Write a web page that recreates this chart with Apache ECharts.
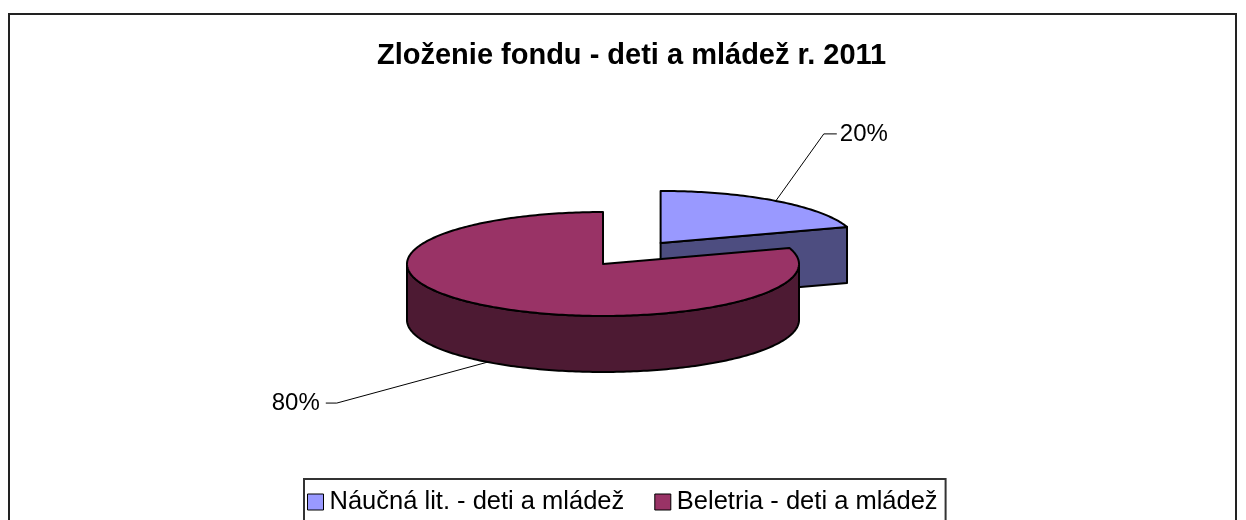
<!DOCTYPE html>
<html>
<head>
<meta charset="utf-8">
<title>Zloženie fondu - deti a mládež r. 2011</title>
<script src="https://cdn.jsdelivr.net/npm/echarts@6/dist/echarts.min.js"></script>
<style>
  html, body { margin: 0; padding: 0; background: #fff; }
  #chart { width: 1246px; height: 520px; }
</style>
</head>
<body>
<div id="chart"></div>
<script>
// data
const categories = ['Náučná lit. - deti a mládež', 'Beletria - deti a mládež'];
const values = [20, 80];

// colours: top face / side face
const topColors = ['#9999FF', '#993366'];
const sideColors = ['#4D4D80', '#4D1A33'];

// pie geometry (3D look, drawn by hand in a custom series)
const pie = { cx: 603, cy: 264, rx: 196, ry: 52, depth: 56 };
const explode = [0.5, 0];
// leader line: anchor -> elbow offset, then short horizontal piece
const leader = [[48, -67], [-151, 41]];

const total = values.reduce((a, b) => a + b, 0);
const rad = d => d * Math.PI / 180;

function pt (c, deg, dy) {
  return [c[0] + pie.rx * Math.sin(rad(deg)), c[1] - pie.ry * Math.cos(rad(deg)) + (dy || 0)];
}
function arc (c, a0, a1, dy) {
  const pts = [];
  const n = Math.max(2, Math.ceil(Math.abs(a1 - a0)));
  for (let k = 0; k <= n; k++) pts.push(pt(c, a0 + (a1 - a0) * k / n, dy));
  return pts;
}

function renderSlice (params, api) {
  const i = params.seriesIndex;
  const v = api.value(0);
  let start = 0;
  for (let k = 0; k < i; k++) start += values[k];
  const a0 = start / total * 360;
  const a1 = a0 + v / total * 360;
  const mid = (a0 + a1) / 2;
  const ex = explode[i];
  const c = [pie.cx + ex * pie.rx * Math.sin(rad(mid)), pie.cy - ex * pie.ry * Math.cos(rad(mid))];
  const d = pie.depth;
  const line = { stroke: '#000', lineWidth: 2, lineJoin: 'round' };
  const children = [];

  // radial faces
  const face = (a) => ({
    type: 'polygon',
    shape: { points: [c, pt(c, a), pt(c, a, d), [c[0], c[1] + d]] },
    style: Object.assign({ fill: sideColors[i] }, line)
  });
  if (Math.sin(rad(a0)) < -1e-6) children.push(face(a0));
  if (Math.sin(rad(a1)) > 1e-6) children.push(face(a1));

  // outer curved side (front half only)
  const s = Math.max(a0, 90);
  const e = Math.min(a1, 270);
  if (e > s) {
    const top = arc(c, s, e, 0);
    const bot = arc(c, e, s, d);
    children.push({
      type: 'polygon',
      shape: { points: top.concat(bot) },
      style: Object.assign({ fill: sideColors[i] }, line)
    });
  }

  // top face
  children.push({
    type: 'polygon',
    shape: { points: [c].concat(arc(c, a0, a1, 0)) },
    style: Object.assign({ fill: topColors[i] }, line)
  });

  // label + leader
  const front = Math.cos(rad(mid)) < 0;
  const anchor = pt(c, mid, front ? d : 0);
  const elbow = [anchor[0] + leader[i][0], anchor[1] + leader[i][1]];
  const right = leader[i][0] > 0;
  const tail = [elbow[0] + (right ? 13 : -11), elbow[1]];
  children.push({
    type: 'polyline',
    shape: { points: [anchor, elbow, tail] },
    style: { stroke: '#000', lineWidth: 1, fill: null }
  });
  children.push({
    type: 'text',
    style: {
      text: Math.round(v / total * 100) + '%',
      x: tail[0] + (right ? 3 : -6),
      y: tail[1],
      align: right ? 'left' : 'right',
      verticalAlign: 'middle',
      fill: '#000',
      font: '24px "Liberation Sans", Arial, sans-serif'
    }
  });

  return { type: 'group', children: children };
}

const chart = echarts.init(document.getElementById('chart'));
chart.setOption({
  animation: false,
  backgroundColor: '#fff',
  textStyle: { fontFamily: '"Liberation Sans", Arial, sans-serif' },
  graphic: [{
    type: 'rect',
    shape: { x: 9, y: 14, width: 1227, height: 540 },
    style: { fill: null, stroke: '#222', lineWidth: 2 },
    silent: true
  }],
  title: {
    text: 'Zloženie fondu - deti a mládež r. 2011',
    left: 372,
    top: 36,
    textStyle: { fontSize: 29, fontWeight: 'bold', color: '#000', fontFamily: '"Liberation Sans", Arial, sans-serif' }
  },
  legend: {
    data: categories,
    left: 304,
    top: 479,
    icon: 'rect',
    itemWidth: 16,
    itemHeight: 16,
    itemGap: 30,
    padding: [10, 8, 40, 3],
    backgroundColor: '#fff',
    borderColor: '#333',
    borderWidth: 2,
    borderRadius: 0,
    itemStyle: { borderColor: '#000', borderWidth: 1 },
    textStyle: { fontSize: 25.5, color: '#000', padding: [0, 0, 0, 1] }
  },
  series: categories.map((name, i) => ({
    type: 'custom',
    name: name,
    coordinateSystem: 'none',
    itemStyle: { color: topColors[i] },
    renderItem: renderSlice,
    data: [[values[i]]],
    z: 2 + i
  }))
});
</script>
</body>
</html>
